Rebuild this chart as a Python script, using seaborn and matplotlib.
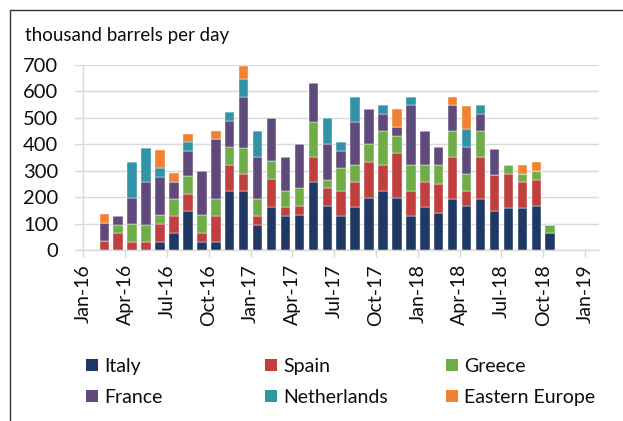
import matplotlib
matplotlib.use("Agg")
import matplotlib.pyplot as plt
import matplotlib.transforms as mtransforms
from matplotlib.lines import Line2D
from matplotlib.patches import Patch
import numpy as np
import seaborn as sns

# Monthly data, Feb-16 .. Oct-18 (thousand barrels per day)
months = ["Feb-16", "Mar-16", "Apr-16", "May-16", "Jun-16", "Jul-16", "Aug-16", "Sep-16",
          "Oct-16", "Nov-16", "Dec-16", "Jan-17", "Feb-17", "Mar-17", "Apr-17", "May-17",
          "Jun-17", "Jul-17", "Aug-17", "Sep-17", "Oct-17", "Nov-17", "Dec-17", "Jan-18",
          "Feb-18", "Mar-18", "Apr-18", "May-18", "Jun-18", "Jul-18", "Aug-18", "Sep-18",
          "Oct-18"]
italy = [0, 0, 0, 0, 31, 64, 149, 31, 31, 222, 224, 96, 161, 128, 133, 257, 166, 128, 161,
         198, 224, 198, 128, 161, 141, 193, 166, 193, 149, 160, 160, 166, 64]
spain = [34, 64, 31, 31, 68, 64, 64, 34, 97, 99, 64, 32, 107, 33, 33, 96, 67, 96, 96, 134,
         97, 168, 96, 96, 108, 160, 56, 160, 134, 128, 97, 100, 0]
greece = [0, 32, 68, 65, 34, 65, 65, 68, 65, 68, 99, 65, 69, 63, 67, 130, 33, 87, 64, 67,
          128, 65, 97, 64, 72, 96, 65, 96, 0, 33, 31, 34, 32]
france = [67, 32, 99, 161, 142, 64, 96, 167, 225, 99, 192, 160, 162, 129, 166, 147, 133, 64,
          162, 134, 66, 35, 227, 128, 69, 99, 102, 66, 100, 0, 0, 0, 0]
netherlands = [0, 0, 133, 128, 35, 0, 33, 0, 0, 33, 67, 96, 0, 0, 0, 0, 100, 32, 96, 0, 33,
               0, 31, 0, 0, 0, 67, 33, 0, 0, 0, 0, 0]
eastern_europe = [35, 0, 0, 0, 67, 33, 32, 0, 33, 0, 51, 0, 0, 0, 0, 0, 0, 0, 0, 0, 0, 67,
                  0, 0, 0, 31, 88, 0, 0, 0, 33, 32, 0]

series = [("Italy", italy), ("Spain", spain), ("Greece", greece),
          ("France", france), ("Netherlands", netherlands),
          ("Eastern Europe", eastern_europe)]
colors = ["#1F3864", "#C0403F", "#70AD47", "#604A7B", "#3093A8", "#F08232"]

tick_labels = ["Jan-16", "Apr-16", "Jul-16", "Oct-16", "Jan-17", "Apr-17", "Jul-17",
               "Oct-17", "Jan-18", "Apr-18", "Jul-18", "Oct-18", "Jan-19"]

sns.set_theme(style="white")
plt.rcParams["font.family"] = ["Lato", "DejaVu Sans"]
FS = 14
GRID = "#D9D9D9"
TXT = "#0D0D0D"

fig = plt.figure(figsize=(6.23, 4.21), dpi=100)
ax = fig.add_axes([0.1204, 0.4062, 0.8411, 0.4401])

# month index: Jan-16 = 0, each bar fills its month
x = np.arange(1, len(months) + 1) + 0.5
bottom = np.zeros(len(months))
for (name, vals), col in zip(series, colors):
    vals = np.array(vals, dtype=float)
    ax.bar(x, vals, width=0.68, bottom=bottom, color=col, edgecolor="white",
           linewidth=0.3, label=name, zorder=3)
    bottom += vals

ax.set_xlim(-0.6, 37.0)
ax.set_ylim(0, 700)
ax.set_yticks(range(0, 701, 100))
ax.yaxis.grid(True, color=GRID, linewidth=1.0, zorder=0)
ax.axvline(0, color=GRID, linewidth=1.0, zorder=1)

ax.set_xticks(np.arange(0, 37, 3))
ax.set_xticklabels(tick_labels, rotation=90, fontsize=FS, color=TXT)
offset = mtransforms.ScaledTranslation(10 / 100, 0, fig.dpi_scale_trans)
for lab in ax.get_xticklabels():
    lab.set_transform(lab.get_transform() + offset)
ax.tick_params(axis="x", length=5, width=1, color=GRID, pad=5, bottom=True)
ax.tick_params(axis="y", length=0, pad=12, labelsize=14.5, labelcolor=TXT)

for side in ["top", "right", "left"]:
    ax.spines[side].set_visible(False)
ax.spines["bottom"].set_color(GRID)
ax.spines["bottom"].set_linewidth(1.0)

fig.text(25 / 623, 1 - 36 / 421, "thousand barrels per day", fontsize=13.5,
         color=TXT, va="center", ha="left")

# legend: three columns, two rows
col_x = [86 / 623, 265 / 623, 446 / 623]
for i, cx in enumerate(col_x):
    idx = [i, i + 3]
    handles = [Patch(facecolor=colors[j], edgecolor="none") for j in idx]
    labels = [series[j][0] for j in idx]
    leg = fig.legend(handles, labels, loc="upper left",
                     bbox_to_anchor=(cx, 1 - 358 / 421), frameon=False,
                     fontsize=FS, handlelength=0.6, handleheight=0.6,
                     handletextpad=0.35, labelspacing=0.72, borderpad=0,
                     borderaxespad=0)
    for t in leg.get_texts():
        t.set_color(TXT)

# outer chart border (partially cropped in the original)
fig.add_artist(Line2D([10 / 623, 10 / 623], [0, 1 - 10 / 421], color="#333333",
                      linewidth=1.0, transform=fig.transFigure))
fig.add_artist(Line2D([10 / 623, 1], [1 - 10 / 421, 1 - 10 / 421], color="#333333",
                      linewidth=1.0, transform=fig.transFigure))

fig.savefig("out.png", dpi=100)
